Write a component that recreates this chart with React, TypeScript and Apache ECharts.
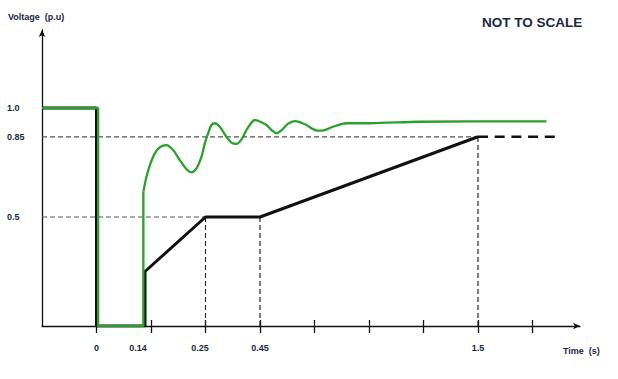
import { useEffect, useRef } from 'react';
import * as echarts from 'echarts';

// The figure is "NOT TO SCALE": x is in drawing units (one unit = one tick step),
// y is in drawn-height units (1.0 p.u. = 1 unit, 0.85 drawn slightly high as in the figure).
const xTickPos = [0, 1, 2, 3, 4, 5, 6, 7, 8];
const xLabelPos = [0, 0.76, 1.9, 3.0, 7.0];
const xLabelText = ['0', '0.14', '0.25', '0.45', '1.5'];
const yLabelPos = [1.0, 0.868, 0.5];
const yLabelText = ['1.0', '0.85', '0.5'];

// Black: voltage limit curve
const limitCurve = [[-1, 1], [0, 1], [0, 0], [0.89, 0], [0.89, 0.25], [2, 0.5], [3, 0.5], [7, 0.868]];
const limitExtension = [[7, 0.868], [8.46, 0.868]];

// Green: voltage response
const responseStep = [[-1, 1], [0.03, 1], [0.03, 0], [0.86, 0], [0.86, 0.616]];
const responseCurve = [
  [0.86, 0.616], [0.917, 0.685], [0.99, 0.745], [1.07, 0.792], [1.162, 0.82], [1.284, 0.83],
  [1.406, 0.807], [1.528, 0.761], [1.651, 0.719], [1.743, 0.705], [1.835, 0.723],
  [1.927, 0.777], [1.987, 0.838], [2.048, 0.884], [2.11, 0.922], [2.171, 0.93],
  [2.262, 0.914], [2.385, 0.868], [2.477, 0.841], [2.569, 0.835], [2.661, 0.856],
  [2.752, 0.899], [2.813, 0.922], [2.905, 0.945], [2.996, 0.938], [3.119, 0.922],
  [3.211, 0.899], [3.303, 0.884], [3.4, 0.899], [3.51, 0.927], [3.639, 0.94],
  [3.75, 0.933], [3.853, 0.922], [3.95, 0.906], [4.066, 0.896], [4.19, 0.899],
  [4.341, 0.914], [4.587, 0.93], [5.015, 0.93], [5.932, 0.937], [8.257, 0.939],
];

// Dashed guide lines
const guideH = [
  [[-1, 0.868], [7, 0.868]],
  [[-1, 0.5], [2, 0.5]],
];
const guideV = [
  [[2, 0], [2, 0.5]],
  [[3, 0], [3, 0.5]],
  [[7, 0], [7, 0.868]],
];

const FONT = 'Liberation Sans, Arial, sans-serif';
const TEXT = '#1c2744';
const GREEN = '#2ca02c';
const BLACK = '#111111';

const lookup = (pos: number[], text: string[]) => (v: number) => {
  const i = pos.findIndex((p) => Math.abs(p - v) < 1e-6);
  return i >= 0 ? text[i] : '';
};

export default function App() {
  const ref = useRef<HTMLDivElement>(null);
  useEffect(() => {
    const chart = echarts.init(ref.current!, null, { renderer: 'svg' });
    const xMin = -1;
    const xMax = 8.872;
    const yMax = 1.3578;
    const series: any[] = [];
    guideH.forEach((d) =>
      series.push({
        type: 'line', data: d, symbol: 'none', silent: true,
        lineStyle: { color: '#555', width: 1.2, type: [5, 3] }, z: 1,
      })
    );
    guideV.forEach((d) =>
      series.push({
        type: 'line', data: d, symbol: 'none', silent: true,
        lineStyle: { color: '#222', width: 1.2, type: [5, 3] }, z: 1,
      })
    );
    series.push({
      type: 'line', data: limitCurve, symbol: 'none',
      lineStyle: { color: BLACK, width: 3 }, z: 2,
    });
    series.push({
      type: 'line', data: limitExtension, symbol: 'none',
      lineStyle: { color: BLACK, width: 2.6, type: [10, 6.7] }, z: 2,
    });
    series.push({
      type: 'line', data: responseStep, symbol: 'none',
      lineStyle: { color: GREEN, width: 2.3 }, z: 3,
    });
    series.push({
      type: 'line', data: responseCurve, symbol: 'none', smooth: 0.3,
      lineStyle: { color: GREEN, width: 2.3 }, z: 3,
    });

    chart.setOption({
      animation: false,
      backgroundColor: '#ffffff',
      grid: { left: 42, right: 38, top: 30, bottom: 53 },
      xAxis: [
        {
          type: 'value', min: xMin, max: xMax, position: 'bottom',
          axisLine: {
            show: true, onZero: false, symbol: ['none', 'arrow'], symbolSize: [5, 7],
            lineStyle: { color: BLACK, width: 1.3 },
          },
          axisTick: { show: true, customValues: xTickPos, length: 7, lineStyle: { color: BLACK, width: 1.3 } },
          axisLabel: {
            show: true, customValues: xLabelPos, formatter: lookup(xLabelPos, xLabelText),
            margin: 17, fontFamily: FONT, fontSize: 9, fontWeight: 'bold', color: TEXT,
          },
          splitLine: { show: false },
        },
        {
          type: 'value', min: xMin, max: xMax, position: 'bottom', offset: 0,
          axisLine: { show: false, onZero: false },
          axisTick: { show: true, inside: true, customValues: xTickPos, length: 6, lineStyle: { color: BLACK, width: 1.3 } },
          axisLabel: { show: false },
          splitLine: { show: false },
        },
      ],
      yAxis: {
        type: 'value', min: 0, max: yMax,
        axisLine: {
          show: true, onZero: false, symbol: ['none', 'arrow'], symbolSize: [5, 7],
          lineStyle: { color: BLACK, width: 1.3 },
        },
        axisTick: { show: false },
        axisLabel: {
          show: true, customValues: yLabelPos, formatter: lookup(yLabelPos, yLabelText),
          align: 'left', margin: 35, fontFamily: FONT, fontSize: 9, fontWeight: 'bold', color: TEXT,
        },
        splitLine: { show: false },
      },
      graphic: [
        {
          type: 'text', left: 8, top: 12,
          style: { text: 'Voltage  (p.u)', font: `bold 9px ${FONT}`, fill: TEXT },
        },
        {
          type: 'text', left: 563, top: 346,
          style: { text: 'Time  (s)', font: `bold 9px ${FONT}`, fill: TEXT },
        },
        {
          type: 'text', left: 482, top: 15,
          style: { text: 'NOT TO SCALE', font: `bold 13.5px ${FONT}`, fill: TEXT },
        },
      ],
      series,
    });
    return () => chart.dispose();
  }, []);
  return (
    <div
      ref={ref}
      style={{ position: 'fixed', left: 0, top: 0, width: 618, height: 379, background: '#fff' }}
    />
  );
}
